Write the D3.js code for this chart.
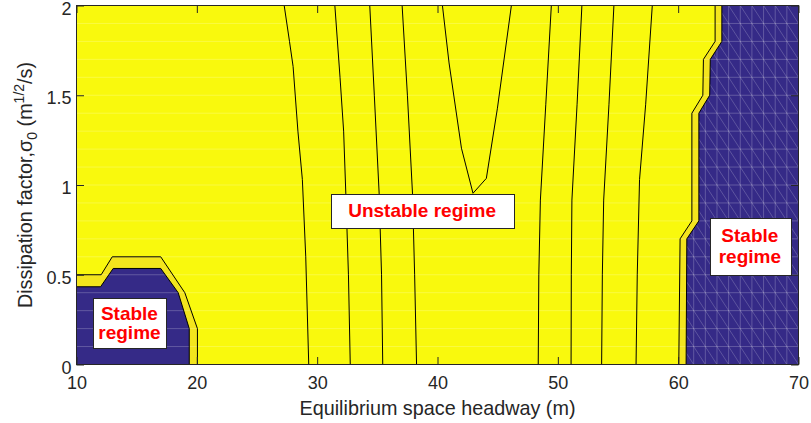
<!DOCTYPE html>
<html><head><meta charset="utf-8">
<script src="https://cdn.jsdelivr.net/npm/d3@7"></script>
<style>
html,body{margin:0;padding:0;background:#fff;}
svg{display:block;font-family:"Liberation Sans",Arial,Helvetica,sans-serif;}
</style></head><body>
<svg id="chart" width="811" height="423"></svg>
<script>
// ---- data (headway in m, sigma0 in m^(1/2)/s) ----
const xTicks = [10, 20, 30, 40, 50, 60, 70];
const yTicks = [0, 0.5, 1, 1.5, 2];
const yTickLabels = ["0", "0.5", "1", "1.5", "2"];

// iso-lines inside the unstable (yellow) regime
const contourA = [[27.26,2],[27.7,1.8],[28.0,1.66],[28.4,1.3],[28.77,1.03],[29.05,0.6],[29.3,0]];
const contourB = [[31.47,2],[31.9,1.6],[32.2,1.3],[32.38,0.955],[32.6,0.5],[32.75,0]];
const contourC = [[34.37,2],[34.75,1.5],[35.15,0.955],[35.35,0.5],[35.45,0]];
const contourD = [[37.06,2],[37.5,1.5],[37.92,0.955],[38.1,0.5],[38.26,0]];
const contourV = [[40.41,2],[40.96,1.68],[41.99,1.205],[42.95,0.954],[44.06,1.037],[44.98,1.428],[46.14,2]];
const contourG = [[49.46,2],[49.0,1.45],[48.55,0.916],[48.42,0.5],[48.37,0]];
const contourH = [[52.0,2],[51.6,1.45],[51.17,0.916],[51.12,0.5],[51.1,0]];
const contourI = [[54.66,2],[54.25,1.45],[53.81,0.916],[53.7,0.5],[53.64,0]];
const contourJ = [[57.85,2],[57.3,1.45],[56.79,1.03],[56.6,0.5],[56.5,0]];

// stability boundary (two adjacent levels) – low headway
const leftOuter = [[10,0.5],[12.05,0.5],[12.97,0.6],[17.0,0.6],[19.0,0.4],[20.05,0.2],[20.05,0]];
const leftInner = [[10,0.433],[12.0,0.433],[13.05,0.535],[17.0,0.535],[18.45,0.4],[19.37,0.2],[19.37,0]];
// stability boundary – high headway
const rightOuter = [[63.07,2],[63.07,1.8],[62.1,1.7],[62.05,1.5],[61.14,1.4],[61.14,0.8],[60.16,0.7],[60.05,0]];
const rightInner = [[63.63,2],[63.63,1.8],[62.67,1.7],[62.62,1.5],[61.72,1.4],[61.72,0.8],[60.72,0.7],[60.66,0]];

const regimeLabels = ["Unstable regime", ["Stable", "regime"], ["Stable", "regime"]];

// ---- layout ----
const svg = d3.select("#chart");
const L = 76.5, R = 798.5, T = 5.5, B = 364.5;
const x = d3.scaleLinear().domain([10, 70]).range([L, R]);
const y = d3.scaleLinear().domain([0, 2]).range([B, T]);

const YELLOW = "#f9f90d", BAND = "#f3e51d", BLUE = "#352a87";
const line = d3.line().x(d => x(d[0])).y(d => y(d[1]));

svg.append("defs").append("clipPath").attr("id", "plotclip")
  .append("rect").attr("x", L).attr("y", T).attr("width", R - L).attr("height", B - T);

const plot = svg.append("g").attr("clip-path", "url(#plotclip)");
plot.append("rect").attr("x", L).attr("y", T).attr("width", R - L).attr("height", B - T).attr("fill", YELLOW);

// filled regions
const leftBandPoly = leftOuter.concat([[10, 0]]);
const leftBluePoly = leftInner.concat([[10, 0]]);
const rightBandPoly = rightOuter.concat([[70, 0], [70, 2]]);
const rightBluePoly = rightInner.concat([[70, 0], [70, 2]]);

plot.append("path").attr("d", line(leftBandPoly) + "Z").attr("fill", BAND);
plot.append("path").attr("d", line(rightBandPoly) + "Z").attr("fill", BAND);
plot.append("path").attr("d", line(leftBluePoly) + "Z").attr("fill", BLUE);
plot.append("path").attr("d", line(rightBluePoly) + "Z").attr("fill", BLUE);

// faint mesh edges (rendering of the computation grid)
const meshY = d3.range(1, 20).map(i => i * 0.1);
plot.append("g").selectAll("line").data(meshY).join("line")
  .attr("x1", L).attr("x2", R).attr("y1", d => y(d)).attr("y2", d => y(d))
  .attr("stroke", "#fff").attr("stroke-opacity", 0.22).attr("stroke-width", 1);

svg.select("defs").append("clipPath").attr("id", "blueclip")
  .append("path").attr("d", line(rightBluePoly) + "Z");
const meshG = plot.append("g").attr("clip-path", "url(#blueclip)");
const dx = 60 / 62;
const meshX = d3.range(0, 63).map(k => 70 - k * dx).filter(v => v > 58);
meshG.selectAll("line.v").data(meshX).join("line").attr("class", "v")
  .attr("x1", d => x(d)).attr("x2", d => x(d)).attr("y1", T).attr("y2", B)
  .attr("stroke", "#fff").attr("stroke-opacity", 0.22);
const diag = [];
meshX.forEach(xv => d3.range(0, 20).forEach(j => diag.push([xv - dx, (j + 1) * 0.1, xv, j * 0.1])));
meshG.selectAll("line.d").data(diag).join("line").attr("class", "d")
  .attr("x1", d => x(d[0])).attr("y1", d => y(d[1])).attr("x2", d => x(d[2])).attr("y2", d => y(d[3]))
  .attr("stroke", "#fff").attr("stroke-opacity", 0.2);

// contour lines
const allLines = [contourA, contourB, contourC, contourD, contourV, contourG, contourH, contourI, contourJ,
                  leftOuter, leftInner, rightOuter, rightInner];
plot.append("g").selectAll("path").data(allLines).join("path")
  .attr("d", d => line(d)).attr("fill", "none").attr("stroke", "#000").attr("stroke-width", 1);

// regime annotation boxes
const boxes = [
  {t: regimeLabels[0], cx: 38.72, cy: 0.855, w: 183, h: 33.5, base: [5.5]},
  {t: regimeLabels[1], cx: 14.4, cy: 0.23, w: 72.5, h: 49.5, base: [-3, 16]},
  {t: regimeLabels[2], cx: 65.96, cy: 0.656, w: 80.5, h: 56.5, base: [-4.5, 16.5]}
];
boxes.forEach(b => {
  const px = x(b.cx), py = y(b.cy);
  svg.append("rect").attr("x", Math.round(px - b.w / 2) + 0.5).attr("y", Math.round(py - b.h / 2) + 0.5)
    .attr("width", Math.round(b.w)).attr("height", Math.round(b.h))
    .attr("fill", "#fff").attr("stroke", "#262626").attr("stroke-width", 1);
  const lines = Array.isArray(b.t) ? b.t : [b.t];
  lines.forEach((s, i) => {
    svg.append("text").attr("x", px).attr("y", py + b.base[i]).attr("text-anchor", "middle")
      .attr("fill", "#ff0000").attr("font-weight", "bold").attr("font-size", "19px").text(s);
  });
});

// axes
const AX = "#262626";
const gx = svg.append("g").attr("transform", `translate(0,${B})`)
  .call(d3.axisBottom(x).tickValues(xTicks).tickFormat(d3.format("d")).tickSizeInner(-7.5).tickSizeOuter(0).tickPadding(12));
const gxt = svg.append("g").attr("transform", `translate(0,${T})`)
  .call(d3.axisTop(x).tickValues(xTicks).tickFormat("").tickSizeInner(-7.5).tickSizeOuter(0));
const gy = svg.append("g").attr("transform", `translate(${L},0)`)
  .call(d3.axisLeft(y).tickValues(yTicks).tickFormat((d, i) => yTickLabels[i]).tickSizeInner(-7.5).tickSizeOuter(0).tickPadding(5));
const gyr = svg.append("g").attr("transform", `translate(${R},0)`)
  .call(d3.axisRight(y).tickValues(yTicks).tickFormat("").tickSizeInner(-7.5).tickSizeOuter(0));
[gx, gxt, gy, gyr].forEach(g => {
  g.select(".domain").remove();
  g.selectAll(".tick line").attr("stroke", AX);
  g.selectAll(".tick text").attr("fill", AX).attr("font-size", "18px")
    .attr("font-family", '"Liberation Sans",Arial,Helvetica,sans-serif');
});
gy.selectAll(".tick text").attr("dy", "0.48em");
svg.append("rect").attr("x", L).attr("y", T).attr("width", R - L).attr("height", B - T)
  .attr("fill", "none").attr("stroke", AX).attr("stroke-width", 1);

// axis titles
svg.append("text").attr("x", (L + R) / 2).attr("y", 415).attr("text-anchor", "middle")
  .attr("fill", AX).attr("font-size", "19.8px").text("Equilibrium space headway (m)");
const yl = svg.append("text").attr("transform", `translate(31.5,${(T + B) / 2}) rotate(-90)`)
  .attr("text-anchor", "middle").attr("fill", AX).attr("font-size", "19.8px");
yl.append("tspan").text("Dissipation factor,σ");
yl.append("tspan").attr("font-size", "14px").attr("dy", 5).text("0");
yl.append("tspan").attr("dy", -5).text(" (m");
yl.append("tspan").attr("font-size", "14px").attr("dy", -8).text("1/2");
yl.append("tspan").attr("dy", 8).text("/s)");
</script>
</body></html>
